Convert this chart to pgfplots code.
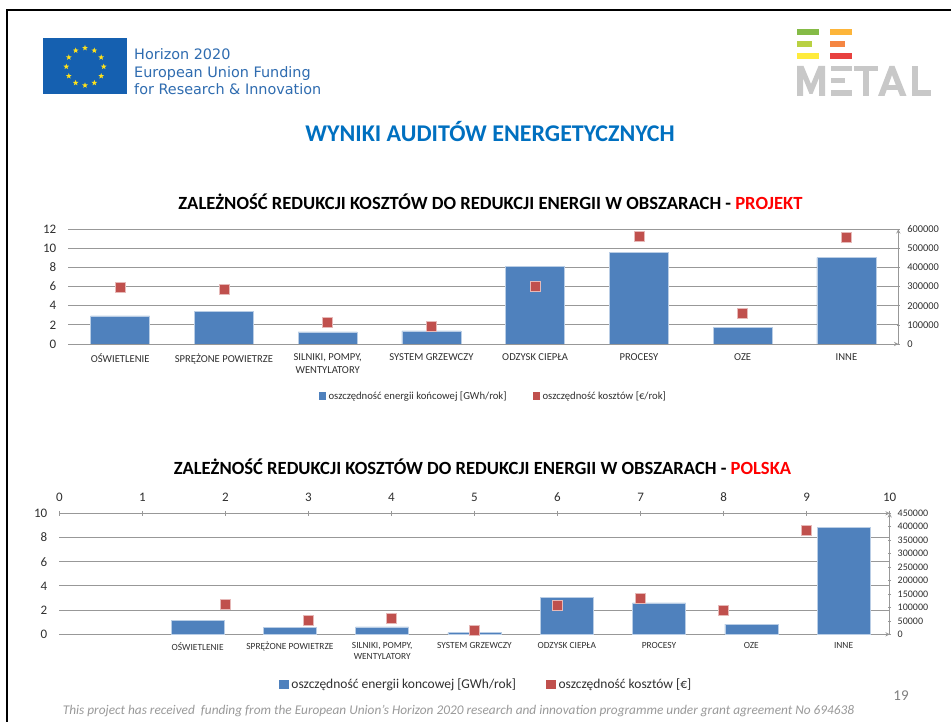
\documentclass[border=0pt]{standalone}
\usepackage{pgfplots}
\usepackage{pgfplotstable}
\usepackage{fontspec}
\pgfplotsset{compat=1.18}
\usetikzlibrary{shapes.geometric,calc}
\setmainfont{Carlito}
\newfontfamily\logofont{DejaVu Sans}
\definecolor{barblue}{HTML}{4F81BD}
\definecolor{baredge}{HTML}{B9CDE5}
\definecolor{mred}{HTML}{C0504D}
\definecolor{medge}{HTML}{E6B9B8}
\definecolor{gridc}{HTML}{989898}
\definecolor{txt}{HTML}{303030}
\definecolor{titleblue}{HTML}{0070C0}
\definecolor{h2020}{HTML}{2F6CB0}
\definecolor{flag}{HTML}{1560B0}
\definecolor{starc}{HTML}{FFE21A}
\definecolor{metal}{HTML}{C8C8C8}
\definecolor{la}{HTML}{85BB47}
\definecolor{lb}{HTML}{FDB53A}
\definecolor{lc}{HTML}{B9D143}
\definecolor{ld}{HTML}{F58642}
\definecolor{le}{HTML}{FFEB3C}
\definecolor{lf}{HTML}{E8413F}
\pgfplotstableread{
x energy
0 2.93
1 3.38
2 1.26
3 1.36
4 8.09
5 9.55
6 1.74
7 9.03
}\projbars
\pgfplotstableread{
x cost
0 294800
1 287800
2 115000
3 92400
4 300000
5 561600
6 162200
7 556400
}\projcost
\pgfplotstableread{
x energy
1 1.16
2 0.58
3 0.61
4 0.14
5 3.03
6 2.59
7 0.85
8 8.84
}\plbars
\pgfplotstableread{
x cost
2 112800
3 53300
4 59500
5 13600
6 106600
7 133900
8 90500
9 385500
}\plcost
\pgfplotsset{
  common/.style={
    scale only axis,
    /pgf/number format/assume math mode=true,
    /pgf/number format/fixed,
    /pgf/number format/1000 sep={},
    scaled y ticks=false,
    scaled x ticks=false,
    ymin=0,
    tick label style={text=txt},
    x axis line style={draw=gridc,line width=0.9pt,-},
    y axis line style={draw=gridc,line width=0.9pt,-},
    tick style={draw=gridc,line width=0.7pt},
    major tick length=3pt,
    tick align=outside,
  },
  barstyle/.style={ybar,fill=barblue,draw=baredge,line width=0.5pt},
  markstyle/.style={only marks,mark=square*,mark size=5pt,
    mark options={fill=mred,draw=medge,line width=0.5pt}},
  swatch/.style={legend image code/.code={\fill[#1] (0pt,-3.3pt) rectangle (6.6pt,3.3pt);}},
  swatchb/.style={legend image code/.code={\fill[#1] (0pt,-4.3pt) rectangle (8.6pt,4.3pt);}},
}
\begin{document}
\begin{tikzpicture}
\path[use as bounding box,fill=white] (0,0) rectangle (951pt,722pt);
% slide edge
\draw[black,line width=2pt] (7pt,0pt) -- (7pt,712pt) -- (951pt,712pt);
% EU flag
\fill[flag] (43.3pt,628pt) rectangle (126.7pt,683.7pt);
\foreach \a in {0,30,...,330}
  \node[star,star points=5,star point ratio=2.4,fill=starc,inner sep=0pt,minimum size=6pt]
    at ($(85pt,655.3pt)+(\a+90:18.7pt)$) {};
\node[anchor=base west,inner sep=0pt,text=h2020,font=\logofont\fontsize{14.4}{15}\selectfont] at (134pt,662pt) {Horizon 2020};
\node[anchor=base west,inner sep=0pt,text=h2020,font=\logofont\fontsize{14.4}{15}\selectfont] at (134pt,644.5pt) {European Union Funding};
\node[anchor=base west,inner sep=0pt,text=h2020,font=\logofont\fontsize{14.4}{15}\selectfont] at (134pt,627pt) {for Research \& Innovation};
% METAL logo
\fill[la] (797.3pt,687pt) rectangle (818.7pt,693pt);
\fill[lb] (830.3pt,687pt) rectangle (851.7pt,693pt);
\fill[lc] (797.3pt,675pt) rectangle (812pt,681pt);
\fill[ld] (830.3pt,675pt) rectangle (845pt,681pt);
\fill[le] (797.3pt,663pt) rectangle (818.7pt,669pt);
\fill[lf] (830.3pt,663pt) rectangle (851.7pt,669pt);
\fill[metal] (797pt,626pt) -- (797pt,656pt) -- (803.5pt,656pt) -- (811pt,638pt) -- (818.5pt,656pt) -- (825pt,656pt) -- (825pt,626pt) -- (819pt,626pt) -- (819pt,644pt) -- (812.5pt,628pt) -- (809.5pt,628pt) -- (803pt,644pt) -- (803pt,626pt) -- cycle;
\fill[metal] (830.7pt,651pt) rectangle (851.7pt,656pt);
\fill[metal] (830.7pt,638.5pt) rectangle (845pt,643.5pt);
\fill[metal] (830.7pt,626pt) rectangle (851.7pt,631.5pt);
\fill[metal] (854pt,650.5pt) rectangle (877.5pt,656pt);
\fill[metal] (862.7pt,626pt) rectangle (869pt,650.5pt);
\fill[metal] (878pt,626pt) -- (889.5pt,656pt) -- (894.5pt,656pt) -- (906.5pt,626pt) -- (900pt,626pt) -- (892pt,647pt) -- (884.5pt,626pt) -- cycle;
\fill[metal] (884pt,632pt) rectangle (901pt,637pt);
\fill[metal] (911.7pt,626pt) rectangle (917.5pt,656pt);
\fill[metal] (911.7pt,626pt) rectangle (931pt,631.5pt);
% main title
\node[text=titleblue,font=\bfseries\fontsize{24}{26}\selectfont,inner sep=0pt] at (490pt,590.5pt) {WYNIKI AUDITÓW ENERGETYCZNYCH};
% chart titles
\node[font=\bfseries\fontsize{18.6}{20}\selectfont,inner sep=0pt] at (490.5pt,520pt) {ZALEŻNOŚĆ REDUKCJI KOSZTÓW DO REDUKCJI ENERGII W OBSZARACH - \textcolor{red}{PROJEKT}};
\node[font=\bfseries\fontsize{18.6}{20}\selectfont,inner sep=0pt] at (482.5pt,255pt) {ZALEŻNOŚĆ REDUKCJI KOSZTÓW DO REDUKCJI ENERGII W OBSZARACH - \textcolor{red}{POLSKA}};
%---- chart 1, primary
\begin{axis}[common,at={(68.3pt,378pt)},width=830pt,height=114.7pt,
  xmin=-0.5,xmax=7.5,ymax=12,ytick={0,2,...,12},
  axis x line=bottom,axis y line=left,
  y axis line style={draw=none},
  ymajorgrids,grid style={draw=gridc,line width=0.9pt},
  ytick style={draw=none},xtick style={draw=none},
  y tick label style={font=\fontsize{13}{14}\selectfont,xshift=-7pt},
  xtick={0,...,7},
  xticklabels={OŚWIETLENIE,SPRĘŻONE POWIETRZE,{SILNIKI, POMPY,\\WENTYLATORY},SYSTEM GRZEWCZY,ODZYSK CIEPŁA,PROCESY,OZE,INNE},
  x tick label style={font=\fontsize{10.6}{12.7}\selectfont,align=center,anchor=north,yshift=-5pt},
]
\addplot[barstyle,bar width=59pt] table[x=x,y=energy]{\projbars};
\end{axis}
%---- chart 1, secondary
\begin{axis}[common,at={(68.3pt,378pt)},width=830pt,height=114.7pt,
  xmin=-0.5,xmax=7.5,ymax=600000,ytick={0,100000,...,600000},
  axis x line=none,axis y line=right,
  y tick label style={font=\fontsize{10.4}{11}\selectfont,xshift=4pt},
  legend style={at={(0.512,-0.453)},anchor=center,draw=none,fill=none,legend columns=2,
    font=\fontsize{10.7}{12}\selectfont,text=txt,inner sep=0pt,
    /tikz/every odd column/.style={column sep=1pt},
    /tikz/every even column/.style={column sep=24pt}},
  legend cell align=left,
]
\addplot[markstyle,forget plot] table[x=x,y=cost]{\projcost};
\addlegendimage{swatch=barblue}
\addlegendentry{oszczędność energii końcowej [GWh/rok]}
\addlegendimage{swatch=mred}
\addlegendentry{oszczędność kosztów [€/rok]}
\end{axis}
%---- chart 2, primary
\begin{axis}[common,at={(59.3pt,87.7pt)},width=830.4pt,height=121pt,
  xmin=-0.5,xmax=8.5,ymax=10,ytick={0,2,...,10},
  axis x line=bottom,axis y line=left,
  y axis line style={draw=none},
  ymajorgrids,grid style={draw=gridc,line width=0.9pt},
  ytick style={draw=none},xtick style={draw=none},
  y tick label style={font=\fontsize{13}{14}\selectfont,xshift=-7pt},
  xtick={1,...,8},
  xticklabels={OŚWIETLENIE,SPRĘŻONE POWIETRZE,{SILNIKI, POMPY,\\WENTYLATORY},SYSTEM GRZEWCZY,ODZYSK CIEPŁA,PROCESY,OZE,INNE},
  x tick label style={font=\fontsize{9.4}{11}\selectfont,align=center,anchor=north,yshift=-3pt},
]
\addplot[barstyle,bar width=53pt] table[x=x,y=energy]{\plbars};
\end{axis}
%---- chart 2, top axis
\begin{axis}[common,at={(59.3pt,87.7pt)},width=830.4pt,height=121pt,
  xmin=0,xmax=10,ymax=1,xtick={0,...,10},ytick=\empty,
  axis x line=top,axis y line=none,
  major tick length=5pt,
  x tick label style={font=\fontsize{13}{14}\selectfont,yshift=6pt},
]
\end{axis}
%---- chart 2, secondary
\begin{axis}[common,at={(59.3pt,87.7pt)},width=830.4pt,height=121pt,
  xmin=0,xmax=10,ymax=450000,ytick={0,50000,...,450000},xtick=\empty,
  axis x line=none,axis y line=right,
  y tick label style={font=\fontsize{10}{11}\selectfont,xshift=3pt},
  legend style={at={(0.514,-0.411)},anchor=center,draw=none,fill=none,legend columns=2,
    font=\fontsize{13.5}{15}\selectfont,text=txt,inner sep=0pt,
    /tikz/every odd column/.style={column sep=1.5pt},
    /tikz/every even column/.style={column sep=28pt}},
  legend cell align=left,
]
\addplot[markstyle,forget plot] table[x=x,y=cost]{\plcost};
\addlegendimage{swatchb=barblue}
\addlegendentry{oszczędność energii koncowej [GWh/rok]}
\addlegendimage{swatchb=mred}
\addlegendentry{oszczędność kosztów [€]}
\end{axis}
% footer
\node[inner sep=0pt,text=black!40,font=\itshape\fontsize{13.3}{15}\selectfont] at (458.5pt,11pt) {This project has received\ \ funding from the European Union’s Horizon 2020 research and innovation programme under grant agreement No 694638};
\node[inner sep=0pt,text=black!50,font=\fontsize{15}{17}\selectfont] at (901pt,26pt) {19};
\end{tikzpicture}
\end{document}
